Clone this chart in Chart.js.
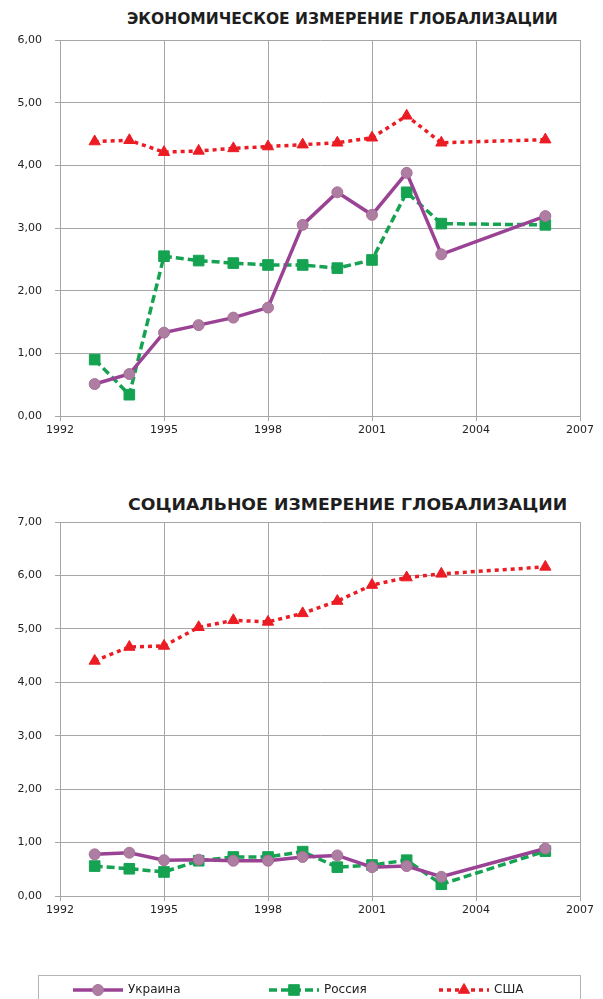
<!DOCTYPE html>
<html>
<head>
<meta charset="utf-8">
<script src="https://cdn.jsdelivr.net/npm/chart.js@4.4.0/dist/chart.umd.min.js"></script>
<style>
body { margin: 0; background: #fff; width: 603px; height: 999px; overflow: hidden; position: relative; }
canvas { position: absolute; left: 0; }
#c1 { top: 0; }
#c2 { top: 460px; }
.ttl { position: absolute; white-space: nowrap; font: bold 16px "DejaVu Sans", sans-serif; color: #1e1e1e; line-height: 16px; transform-origin: 0 50%; }
</style>
</head>
<body>
<div class="ttl" id="t1" style="left:127px;top:11px">ЭКОНОМИЧЕСКОЕ ИЗМЕРЕНИЕ ГЛОБАЛИЗАЦИИ</div>
<div class="ttl" id="t2" style="left:128px;top:497px">СОЦИАЛЬНОЕ ИЗМЕРЕНИЕ ГЛОБАЛИЗАЦИИ</div>
<canvas id="c1" width="603" height="460"></canvas>
<canvas id="c2" width="603" height="539"></canvas>
<script>
// years and series values
var years = [1993, 1994, 1995, 1996, 1997, 1998, 1999, 2000, 2001, 2002, 2003, 2006];
var seriesNames = ["Украина", "Россия", "США"];

var ukrEcon = [0.51, 0.67, 1.33, 1.45, 1.57, 1.73, 3.05, 3.57, 3.21, 3.88, 2.58, 3.19];
var rusEcon = [0.90, 0.34, 2.55, 2.48, 2.44, 2.41, 2.41, 2.36, 2.49, 3.57, 3.07, 3.05];
var usaEcon = [4.38, 4.40, 4.21, 4.23, 4.27, 4.30, 4.33, 4.36, 4.44, 4.79, 4.36, 4.41];

var ukrSoc = [0.78, 0.81, 0.67, 0.68, 0.66, 0.66, 0.73, 0.76, 0.54, 0.56, 0.36, 0.89];
var rusSoc = [0.56, 0.51, 0.45, 0.66, 0.73, 0.73, 0.83, 0.54, 0.58, 0.67, 0.22, 0.84];
var usaSoc = [4.40, 4.66, 4.68, 5.03, 5.16, 5.13, 5.29, 5.52, 5.82, 5.96, 6.03, 6.16];

var xTicks = [1992, 1995, 1998, 2001, 2004, 2007];

// fit titles to the width they have in the picture
function fitTitle(id, w) {
	var el = document.getElementById(id);
	el.style.transform = "scaleX(" + (w / el.offsetWidth) + ")";
}
fitTitle("t1", 431);
fitTitle("t2", 439);

function pts(vals) {
	return vals.map(function (v, i) { return { x: years[i], y: v }; });
}

function makeDatasets(ukr, rus, usa) {
	return [ {
		label: seriesNames[0],
		data: pts(ukr),
		borderColor: "#9a4394",
		borderWidth: 3.5,
		pointStyle: "circle",
		pointRadius: 5.5,
		pointBackgroundColor: "#ad7ea2",
		pointBorderColor: "#a87097",
		pointBorderWidth: 1
	}, {
		label: seriesNames[1],
		data: pts(rus),
		borderColor: "#15a352",
		borderWidth: 3.5,
		borderDash: [8, 4],
		pointStyle: "rect",
		pointRadius: 7.5,
		pointBackgroundColor: "#15a352",
		pointBorderColor: "#15a352",
		pointBorderWidth: 1
	}, {
		label: seriesNames[2],
		data: pts(usa),
		borderColor: "#ec1c24",
		borderWidth: 3.5,
		borderDash: [4, 4],
		pointStyle: "triangle",
		pointRadius: 6.5,
		pointBackgroundColor: "#ec1c24",
		pointBorderColor: "#ec1c24",
		pointBorderWidth: 1
	} ];
}

// legend drawn under the second chart, line + marker like the original
var legendBox = {
	id: "legendBox",
	afterDraw: function (chart, args, opts) {
		if (!opts.show) return;
		var ctx = chart.ctx;
		ctx.save();
		ctx.strokeStyle = "#b4b4b4";
		ctx.lineWidth = 1;
		ctx.strokeRect(38.5, 515.5, 542, 40);
		var cy = 530;
		var xs = [73, 269, 439];
		chart.data.datasets.forEach(function (ds, i) {
			var x0 = xs[i];
			ctx.strokeStyle = ds.borderColor;
			ctx.lineWidth = ds.borderWidth;
			ctx.setLineDash(ds.borderDash || []);
			ctx.beginPath();
			ctx.moveTo(x0, cy);
			ctx.lineTo(x0 + 50, cy);
			ctx.stroke();
			ctx.setLineDash([]);
			ctx.fillStyle = ds.pointBackgroundColor;
			ctx.strokeStyle = ds.pointBorderColor;
			ctx.lineWidth = ds.pointBorderWidth;
			if (Chart.helpers && Chart.helpers.drawPoint) {
				Chart.helpers.drawPoint(ctx, { pointStyle: ds.pointStyle, radius: ds.pointRadius, rotation: 0, borderWidth: ds.pointBorderWidth }, x0 + 25, cy);
			}
			ctx.fillStyle = "#222";
			ctx.font = '12px "DejaVu Sans"';
			ctx.textBaseline = "middle";
			ctx.textAlign = "left";
			ctx.fillText(ds.label, x0 + 55, cy);
		});
		ctx.restore();
	}
};

function makeChart(id, yMax, datasets, padTop, xHeight, showLegend) {
	var gridColor = "#a6a6a6";
	var tickFont = { family: "DejaVu Sans", size: 11 };
	return new Chart(document.getElementById(id), {
		type: "line",
		data: { datasets: datasets },
		plugins: [legendBox],
		options: {
			responsive: false,
			animation: false,
			layout: { padding: { top: padTop, right: 23, left: 0, bottom: 0 } },
			plugins: {
				legend: { display: false },
				title: { display: false },
				tooltip: { enabled: false },
				legendBox: { show: showLegend }
			},
			scales: {
				x: {
					type: "linear",
					min: xTicks[0],
					max: xTicks[xTicks.length - 1],
					afterBuildTicks: function (s) { s.ticks = xTicks.map(function (v) { return { value: v }; }); },
					afterFit: function (s) { s.height = xHeight; },
					ticks: { padding: 3, color: "#222", font: tickFont, maxRotation: 0, callback: function (v) { return String(v); } },
					grid: { color: gridColor, tickLength: 5 },
					border: { color: gridColor }
				},
				y: {
					min: 0,
					max: yMax,
					afterFit: function (s) { s.width = 60; },
					ticks: { stepSize: 1, padding: 13, color: "#222", font: tickFont, callback: function (v) { return v.toFixed(2).replace(".", ","); } },
					grid: { color: gridColor, tickLength: 5 },
					border: { color: gridColor }
				}
			}
		}
	});
}

makeChart("c1", 6, makeDatasets(ukrEcon, rusEcon, usaEcon), 40, 44, false);
makeChart("c2", 7, makeDatasets(ukrSoc, rusSoc, usaSoc), 62, 103, true);
</script>
</body>
</html>
